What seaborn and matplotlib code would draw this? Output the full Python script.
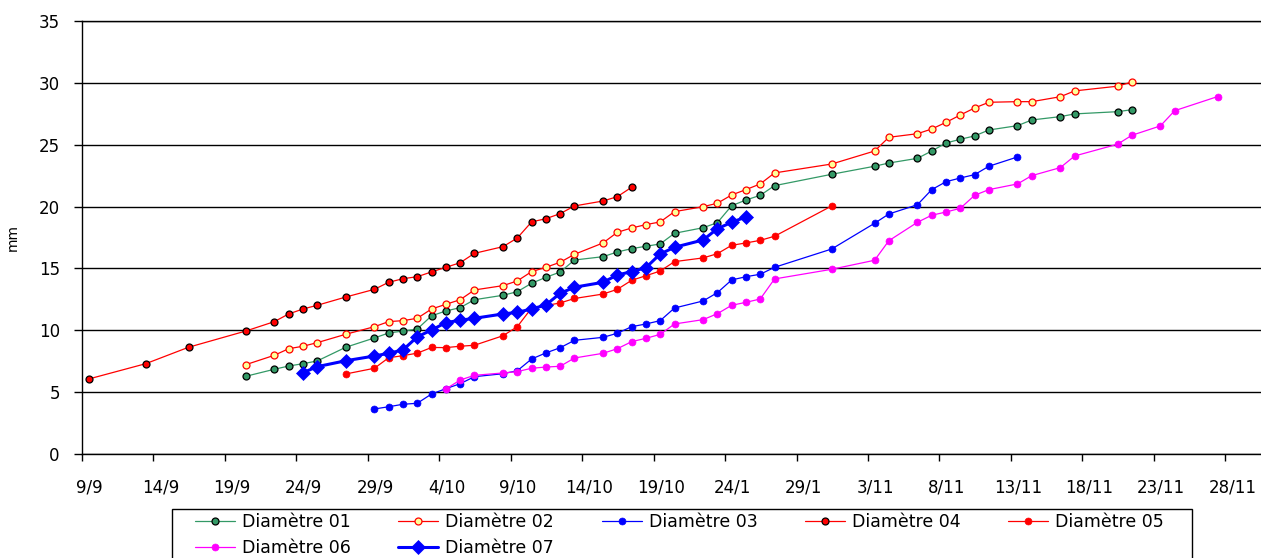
import numpy as np
import pandas as pd
import seaborn as sns
import matplotlib.pyplot as plt
from matplotlib.patches import Rectangle

# x values = day number counted from 9/9 (first tick of the date axis)
d01_days = [11, 13, 14, 15, 16, 18, 20, 21, 22, 23, 24, 25, 26, 27, 29, 30, 31, 32, 33, 34,
            36, 37, 38, 39, 40, 41, 43, 44, 45, 46, 47, 48, 52, 55, 56, 58, 59, 60, 61, 62,
            63, 65, 66, 68, 69, 72, 73]
d01_mm = [6.28, 6.85, 7.11, 7.30, 7.52, 8.63, 9.38, 9.78, 9.94, 10.10, 11.17, 11.56, 11.83,
          12.47, 12.83, 13.12, 13.80, 14.28, 14.71, 15.68, 15.95, 16.33, 16.60, 16.79, 16.98,
          17.84, 18.29, 18.70, 20.07, 20.53, 20.91, 21.69, 22.61, 23.26, 23.52, 23.90, 24.49,
          25.14, 25.44, 25.71, 26.19, 26.54, 27.00, 27.27, 27.49, 27.67, 27.83]

d02_days = d01_days
d02_mm = [7.22, 7.98, 8.51, 8.71, 9.00, 9.68, 10.29, 10.70, 10.78, 10.97, 11.72, 12.10, 12.47,
          13.26, 13.61, 13.99, 14.74, 15.09, 15.50, 16.14, 17.06, 17.92, 18.27, 18.54, 18.76,
          19.59, 19.99, 20.27, 20.94, 21.37, 21.83, 22.72, 23.44, 24.49, 25.60, 25.89, 26.27,
          26.81, 27.40, 27.97, 28.43, 28.48, 28.48, 28.88, 29.35, 29.73, 30.07]

d03_days = [20, 21, 22, 23, 24, 25, 26, 27, 29, 30, 31, 32, 33, 34, 36, 37, 38, 39, 40, 41,
            43, 44, 45, 46, 47, 48, 52, 55, 56, 58, 59, 60, 61, 62, 63, 65]
d03_mm = [3.64, 3.82, 4.02, 4.10, 4.85, 5.28, 5.68, 6.25, 6.49, 6.73, 7.68, 8.17, 8.59, 9.19,
          9.43, 9.76, 10.29, 10.51, 10.78, 11.80, 12.37, 13.04, 14.07, 14.33, 14.53, 15.09,
          16.57, 18.65, 19.40, 20.15, 21.37, 22.01, 22.31, 22.58, 23.26, 24.01]

d04_days = [0, 4, 7, 11, 13, 14, 15, 16, 18, 20, 21, 22, 23, 24, 25, 26, 27, 29, 30, 31, 32,
            33, 34, 36, 37, 38]
d04_mm = [6.06, 7.30, 8.63, 9.94, 10.70, 11.32, 11.72, 12.02, 12.69, 13.31, 13.88, 14.17,
          14.33, 14.72, 15.09, 15.46, 16.22, 16.76, 17.46, 18.76, 19.02, 19.43, 20.05, 20.45,
          20.80, 21.56]

d05_days = [18, 20, 21, 22, 23, 24, 25, 26, 27, 29, 30, 31, 32, 33, 34, 36, 37, 38, 39, 40,
            41, 43, 44, 45, 46, 47, 48, 52]
d05_mm = [6.47, 6.93, 7.78, 7.95, 8.15, 8.61, 8.60, 8.71, 8.79, 9.56, 10.29, 11.80, 12.00,
          12.21, 12.57, 12.93, 13.31, 14.04, 14.41, 14.79, 15.55, 15.85, 16.19, 16.87, 17.06,
          17.27, 17.60, 20.05]

d06_days = [25, 26, 27, 29, 30, 31, 32, 33, 34, 36, 37, 38, 39, 40, 41, 43, 44, 45, 46, 47,
            48, 52, 55, 56, 58, 59, 60, 61, 62, 63, 65, 66, 68, 69, 72, 73, 75, 76, 79]
d06_mm = [5.25, 5.98, 6.36, 6.55, 6.66, 6.93, 7.03, 7.09, 7.76, 8.14, 8.51, 9.08, 9.35, 9.67,
          10.51, 10.86, 11.34, 12.02, 12.26, 12.53, 14.15, 14.93, 15.66, 17.24, 18.73, 19.30,
          19.56, 19.86, 20.91, 21.37, 21.83, 22.50, 23.15, 24.09, 25.04, 25.76, 26.52, 27.75,
          28.89]

d07_days = [15, 16, 18, 20, 21, 22, 23, 24, 25, 26, 27, 29, 30, 31, 32, 33, 34, 36, 37, 38,
            39, 40, 41, 43, 44, 45, 46]
d07_mm = [6.57, 7.06, 7.54, 7.92, 8.14, 8.41, 9.47, 10.02, 10.62, 10.81, 10.97, 11.32, 11.45,
          11.72, 12.05, 12.99, 13.48, 13.88, 14.47, 14.74, 15.06, 16.17, 16.71, 17.30, 18.21,
          18.73, 19.16]

tick_labels = ["9/9", "14/9", "19/9", "24/9", "29/9", "4/10", "9/10", "14/10", "19/10",
               "24/1", "29/1", "3/11", "8/11", "13/11", "18/11", "23/11", "28/11"]

sns.set_theme(style="white")
plt.rcParams['font.family'] = ['DejaVu Sans']

fig = plt.figure(figsize=(12.61, 5.58), dpi=100)
ax = fig.add_axes([82 / 1261, 1 - 454 / 558, 1179 / 1261, 433 / 558])

green = "#339966"
red = "#ff0000"
blue = "#0000ff"
magenta = "#ff00ff"

series = [
    ("Diamètre 01", d01_days, d01_mm, dict(color=green, marker="o", markersize=5,
                                          markerfacecolor=green, markeredgecolor="black",
                                          markeredgewidth=0.9, linewidth=0.9)),
    ("Diamètre 02", d02_days, d02_mm, dict(color=red, marker="o", markersize=5,
                                          markerfacecolor="#ffff99", markeredgecolor=red,
                                          markeredgewidth=0.9, linewidth=0.9)),
    ("Diamètre 03", d03_days, d03_mm, dict(color=blue, marker="o", markersize=5,
                                          markerfacecolor=blue, markeredgecolor=blue,
                                          markeredgewidth=0.5, linewidth=0.9)),
    ("Diamètre 04", d04_days, d04_mm, dict(color=red, marker="o", markersize=5,
                                          markerfacecolor=red, markeredgecolor="black",
                                          markeredgewidth=0.9, linewidth=0.9)),
    ("Diamètre 05", d05_days, d05_mm, dict(color=red, marker="o", markersize=5,
                                          markerfacecolor=red, markeredgecolor=red,
                                          markeredgewidth=0.5, linewidth=0.9)),
    ("Diamètre 06", d06_days, d06_mm, dict(color=magenta, marker="o", markersize=5,
                                          markerfacecolor=magenta, markeredgecolor=magenta,
                                          markeredgewidth=0.5, linewidth=0.9)),
    ("Diamètre 07", d07_days, d07_mm, dict(color=blue, marker="D", markersize=7.5,
                                          markerfacecolor=blue, markeredgecolor=blue,
                                          markeredgewidth=0.5, linewidth=2.2)),
]

# Excel date axis: points sit in the middle of their day slot
for name, days, vals, style in series:
    df = pd.DataFrame({"day": np.array(days) + 0.46, "mm": vals})
    sns.lineplot(data=df, x="day", y="mm", ax=ax, label=name, errorbar=None, **style)

ax.get_legend().remove()

ax.set_xlim(0, 82.5)
ax.set_ylim(0, 35)
ax.set_yticks(np.arange(0, 36, 5))
ax.set_xticks(np.arange(0, 81, 5) + 0.5, labels=tick_labels)
ax.set_xticks(np.arange(0, 85, 5), minor=True)
ax.tick_params(axis="x", which="major", length=0, pad=18, labelsize=12, labelcolor="black")
ax.tick_params(axis="x", which="minor", bottom=True, length=5, width=1, color="black",
               direction="out")
ax.tick_params(axis="y", left=True, length=6, width=1, color="black", direction="out",
               pad=10, labelsize=12, labelcolor="black")

ax.grid(axis="y", color="black", linewidth=1)
ax.grid(axis="x", visible=False)
ax.set_axisbelow(True)

for side in ["left", "bottom", "top"]:
    ax.spines[side].set_color("black")
    ax.spines[side].set_linewidth(1)
ax.spines["right"].set_visible(False)

ax.set_xlabel("")
ax.set_ylabel("mm", fontsize=10, color="black")
ax.yaxis.set_label_coords(-0.053, 0.5)

# legend, filled row by row like the original
handles, labels = ax.get_legend_handles_labels()
order = [0, 5, 1, 6, 2, 3, 4]
leg = fig.legend([handles[i] for i in order], [labels[i] for i in order], ncol=5,
                 loc="upper left", bbox_to_anchor=(195 / 1261, 1 - 513 / 558),
                 frameon=False, fontsize=12.5, handlelength=2.3, handletextpad=0.4,
                 columnspacing=2.75, labelspacing=0.45, borderpad=0, borderaxespad=0)
for t in leg.get_texts():
    t.set_color("black")
fig.add_artist(Rectangle((172 / 1261, -0.02), 1020 / 1261, 0.02 + 1 - 509 / 558,
                         transform=fig.transFigure, fill=False, edgecolor="black",
                         linewidth=1, clip_on=False))

fig.savefig("out.png", dpi=100)
